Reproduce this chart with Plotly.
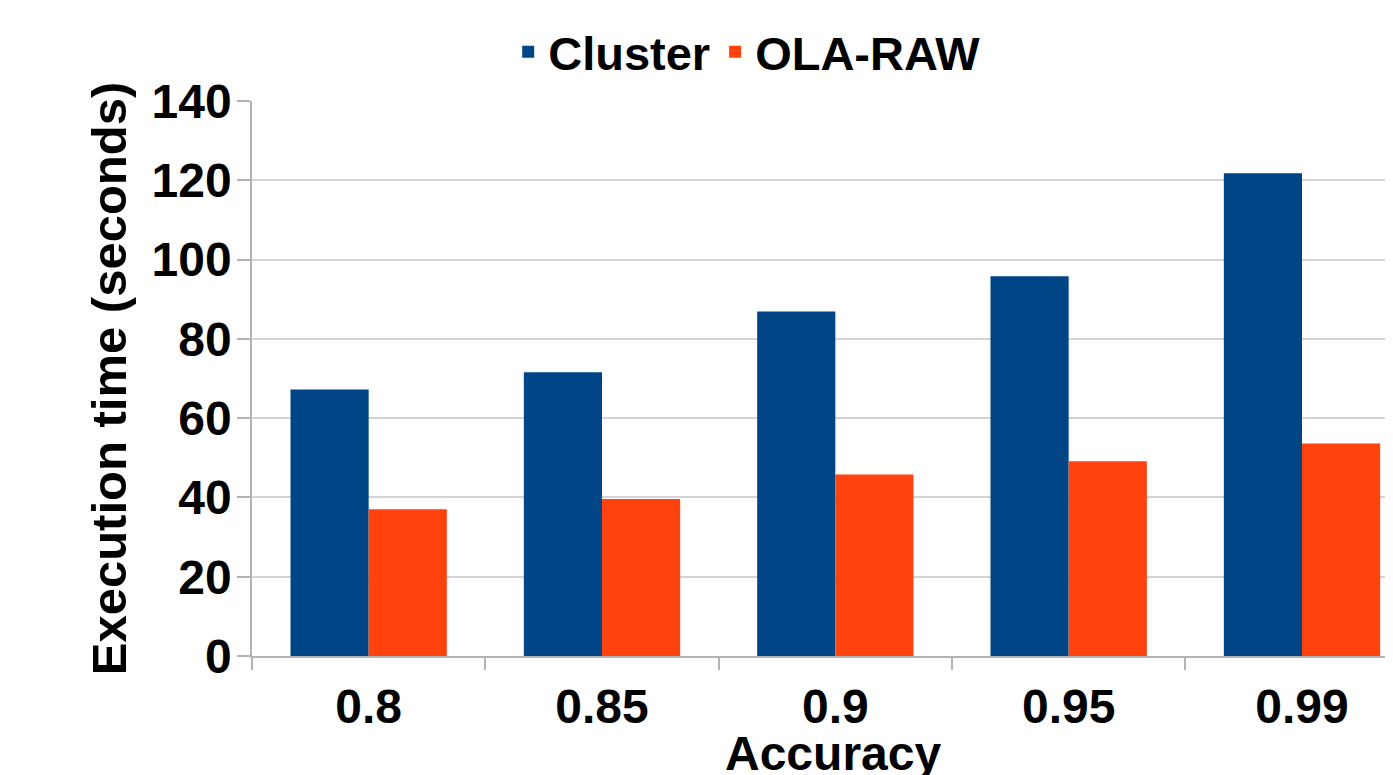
import plotly.graph_objects as go

categories = ["0.8", "0.85", "0.9", "0.95", "0.99"]
cluster = [67.2, 71.6, 86.9, 95.8, 121.8]
ola_raw = [37.0, 39.6, 45.8, 49.1, 53.6]
y_ticks = [0, 20, 40, 60, 80, 100, 120, 140]

FONT = "Liberation Sans, Arial, sans-serif"

fig = go.Figure()
fig.add_trace(go.Bar(name="Cluster", x=categories, y=cluster,
                     marker=dict(color="#004586", line=dict(width=0))))
fig.add_trace(go.Bar(name="OLA-RAW", x=categories, y=ola_raw,
                     marker=dict(color="#ff420e", line=dict(width=0))))

# page body has an 8px margin, so the figure is offset by 8px
fig.update_layout(
    width=1385, height=767,
    margin=dict(l=244, r=0, t=93, b=119, autoexpand=False),
    paper_bgcolor="white", plot_bgcolor="white",
    barmode="group", bargap=0.33, bargroupgap=0,
    font=dict(family=FONT, size=47, color="black"),
    legend=dict(orientation="h", x=0.434, xanchor="center", y=1.088, yanchor="middle",
                font=dict(family=FONT, size=47, color="black", weight="bold"),
                itemwidth=30, tracegroupgap=0, bgcolor="rgba(0,0,0,0)"),
    showlegend=True,
    annotations=[dict(text="Accuracy", xref="paper", yref="paper", x=0.509, y=-0.125,
                      xanchor="center", yanchor="top", showarrow=False,
                      font=dict(family=FONT, size=48, color="black", weight="bold"))],
)
fig.update_xaxes(
    range=[-0.5, 4.39], automargin=False,
    showgrid=False, showline=True, linecolor="#b3b3b3", linewidth=1.5,
    ticks="outside", tickson="boundaries", ticklen=12, tickcolor="#b3b3b3", tickwidth=1.5,
    ticklabelstandoff=8,
    tickfont=dict(family=FONT, size=48, color="black", weight="bold"),
)
fig.update_yaxes(
    range=[0, 140], tickvals=y_ticks, automargin=False,
    showgrid=True, gridcolor="#d4d4d4", gridwidth=1.5,
    showline=True, linecolor="#b3b3b3", linewidth=1.5,
    ticks="outside", ticklen=13, tickcolor="#b3b3b3", tickwidth=1.5,
    zeroline=False,
    ticklabelstandoff=-4,
    tickfont=dict(family=FONT, size=48, color="black", weight="bold"),
    title=dict(text="Execution time (seconds)",
               font=dict(family=FONT, size=49, color="black", weight="bold"), standoff=9),
)

fig.write_html("out.html")
